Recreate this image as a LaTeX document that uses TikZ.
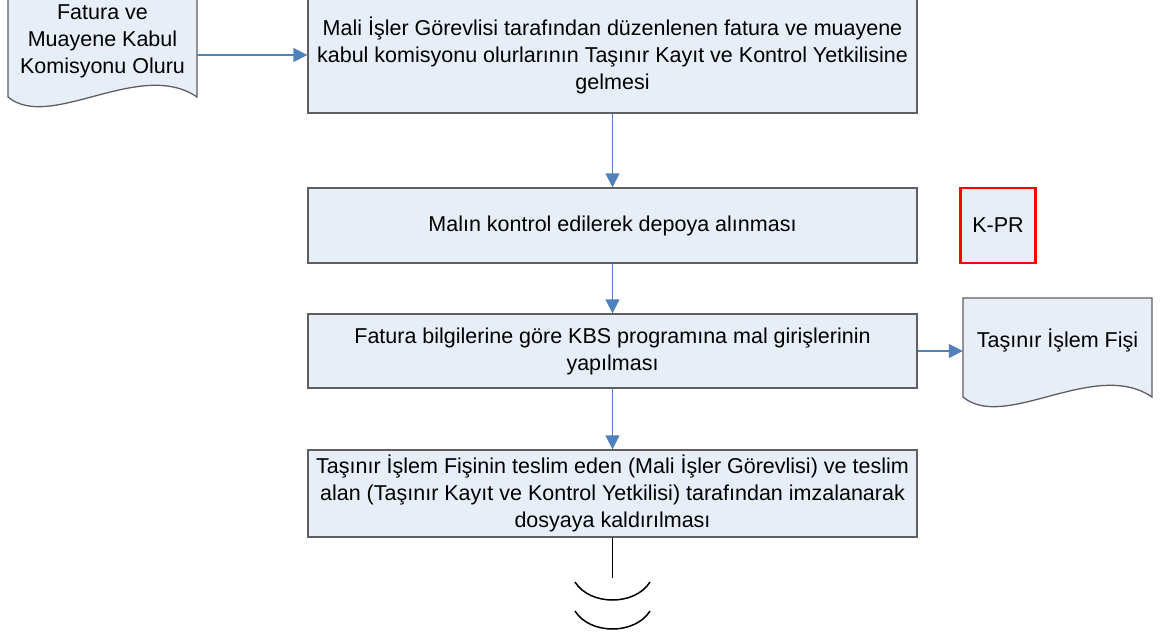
\documentclass[tikz,border=0pt]{standalone}
\usepackage{fontspec}
\setmainfont{Liberation Sans}
\usetikzlibrary{arrows.meta}
\definecolor{boxfill}{HTML}{E8EEF7}
\definecolor{boxline}{HTML}{5F5F5F}
\definecolor{arrowblue}{HTML}{4F81BD}
\tikzset{
  procbox/.style={draw=boxline, line width=1.3pt, fill=boxfill, minimum width=609pt, align=center, font=\fontsize{21.5}{27}\selectfont, inner sep=0pt},
  docshape/.style={draw=boxline, line width=1.3pt, fill=boxfill},
  doctext/.style={align=center, font=\fontsize{21.5}{27}\selectfont, inner sep=0pt},
  arr/.style={draw=arrowblue, line width=1.3pt, -{Triangle[length=14pt,width=14pt]}},
  endline/.style={draw=black, line width=1.5pt}
}
\begin{document}
\begin{tikzpicture}[x=1pt,y=-1pt]
\clip (0,0) rectangle (1160,642);
\fill[white] (0,0) rectangle (1160,642);
% document 1
\draw[docshape] (8,-5) -- (8,97) .. controls (50,132) and (140,58) .. (197,97) -- (197,-5) -- cycle;
\node[minimum width=189pt, minimum height=102pt, inner sep=0pt] (doc1) at (102.5,46) {};
\node[doctext] (doc1t) at (102.5,41) {Fatura ve\\Muayene Kabul\\Komisyonu Oluru};
% box 1
\node[procbox, minimum height=116pt] (box1) at (612.5,55) {Mali İşler Görevlisi tarafından düzenlenen fatura ve muayene\\kabul komisyonu olurlarının Taşınır Kayıt ve Kontrol Yetkilisine\\gelmesi};
% box 2
\node[procbox, minimum height=75pt] (box2) at (612.5,225.5) {Malın kontrol edilerek depoya alınması};
% K-PR
\node[draw=red, line width=2.6pt, fill=boxfill, minimum width=75pt, minimum height=75pt, font=\fontsize{21.5}{27}\selectfont, inner sep=0pt] (kpr) at (998,225.5) {K-PR};
% box 3
\node[procbox, minimum height=74pt] (box3) at (612.5,351) {Fatura bilgilerine göre KBS programına mal girişlerinin\\yapılması};
% document 2
\draw[docshape] (963,298) -- (963,397) .. controls (1005,432) and (1095,358) .. (1152,397) -- (1152,298) -- cycle;
\node[minimum width=189pt, minimum height=99pt, inner sep=0pt] (doc2) at (1057.5,347.5) {};
\node[doctext] (doc2t) at (1057.5,340) {Taşınır İşlem Fişi};
% box 4
\node[procbox, minimum height=87pt] (box4) at (612.5,493.5) {Taşınır İşlem Fişinin teslim eden (Mali İşler Görevlisi) ve teslim\\alan (Taşınır Kayıt ve Kontrol Yetkilisi) tarafından imzalanarak\\dosyaya kaldırılması};
% connectors
\draw[arr] (doc1.east |- box1.west) -- (box1.west);
\draw[arr] (box1.south) -- (box2.north);
\draw[arr] (box2.south) -- (box3.north);
\draw[arr] (box3.east) -- (box3.east -| doc2.west);
\draw[arr] (box3.south) -- (box4.north);
% continuation
\coordinate (cont) at (612.5,578);
\draw[endline] (box4.south) -- (cont);
\draw[endline] (575,582) .. controls (590,606) and (635,606) .. (650,582);
\draw[endline] (575,611) .. controls (590,635) and (635,635) .. (650,611);
\end{tikzpicture}
\end{document}
